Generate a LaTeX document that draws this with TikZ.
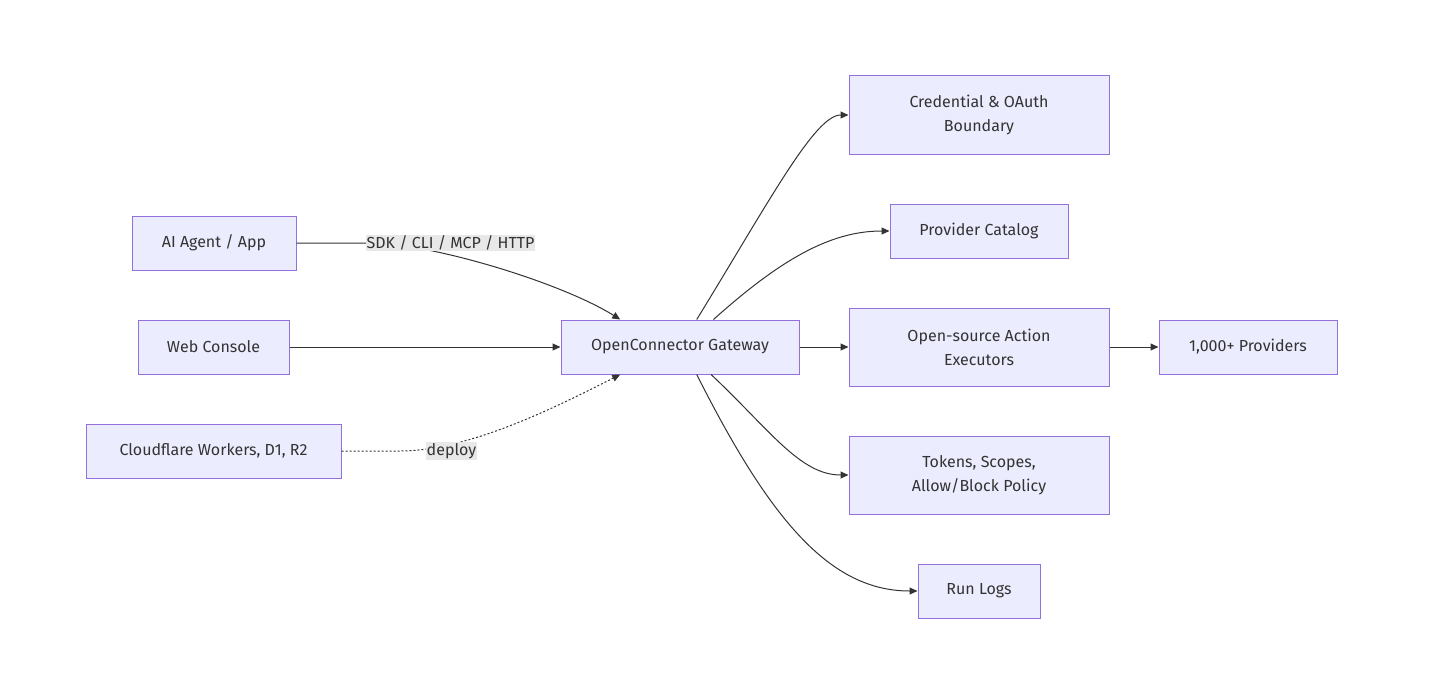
\documentclass[tikz,border=0pt]{standalone}
\usepackage{fontspec}
\setmainfont{Fira Sans}
\usetikzlibrary{arrows.meta, calc}

\definecolor{nodefill}{HTML}{ECECFF}
\definecolor{nodeline}{HTML}{9370DB}
\definecolor{edgeline}{HTML}{333333}
\definecolor{lblfill}{HTML}{E8E8E8}

\begin{document}
\begin{tikzpicture}[x=1pt, y=-1pt,
  box/.style={draw=nodeline, fill=nodefill, line width=1pt, align=center,
    text=edgeline, font=\fontsize{16}{24}\selectfont, inner sep=0pt},
  lbl/.style={fill=lblfill, text=edgeline, inner sep=1pt,
    font=\fontsize{16}{18}\selectfont},
  arr/.style={-{Triangle[length=8pt, width=7pt]}, line width=1pt, edgeline},
  dotarr/.style={arr, dash pattern=on 2pt off 2pt},
]
\useasboundingbox (0,0) rectangle (1443,693);

% ── Left column: clients ──
\node[box, minimum width=164pt, minimum height=54pt] (agent) at (214,243)
  {AI Agent / App};
\node[box, minimum width=151pt, minimum height=54pt] (web) at (213.5,347)
  {Web Console};
\node[box, minimum width=255pt, minimum height=54pt] (cf) at (213.5,451)
  {Cloudflare Workers, D1, R2};

% ── Centre: gateway ──
\node[box, minimum width=238pt, minimum height=54pt] (gw) at (680,347)
  {OpenConnector Gateway};

% ── Right column: services ──
\node[box, minimum width=260pt, minimum height=78pt] (cred) at (979,115)
  {Credential \& OAuth\\Boundary};
\node[box, minimum width=178pt, minimum height=54pt] (cat) at (979,231)
  {Provider Catalog};
\node[box, minimum width=260pt, minimum height=78pt] (exec) at (979,347)
  {Open-source Action\\Executors};
\node[box, minimum width=178pt, minimum height=54pt] (prov) at (1248,347)
  {1,000+ Providers};
\node[box, minimum width=260pt, minimum height=78pt] (tok) at (979,475)
  {Tokens, Scopes,\\Allow/Block Policy};
\node[box, minimum width=122pt, minimum height=54pt] (logs) at (979,591)
  {Run Logs};

% anchor points on the gateway border
\coordinate (gwin1) at ($(gw.north west)!0.25!(gw.north east)$);
\coordinate (gwin2) at ($(gw.south west)!0.25!(gw.south east)$);
\coordinate (gwout1) at ($(gw.north west)!0.57!(gw.north east)$);
\coordinate (gwout2) at ($(gw.north west)!0.64!(gw.north east)$);
\coordinate (gwout3) at ($(gw.south west)!0.63!(gw.south east)$);
\coordinate (gwout4) at ($(gw.south west)!0.57!(gw.south east)$);
\coordinate (sdkpt) at (450.5,243);
\coordinate (deppt) at (451.5,451);

% ── Incoming edges ──
\draw[arr] (agent.east) -- (370,243) .. controls (430,243) and (560,282) .. (gwin1);
\draw[arr] (web.east) -- (gw.west);
\draw[dotarr] (cf.east) -- (400,451) .. controls (470,451) and (560,405) .. (gwin2);
\node[lbl] (sdk) at (sdkpt) {SDK / CLI / MCP / HTTP};
\node[lbl] (dep) at (deppt) {deploy};

% ── Outgoing edges ──
\draw[arr] (gwout1) .. controls (770,200) and (815,115) .. (cred.west);
\draw[arr] (gwout2) .. controls (780,260) and (830,231) .. (cat.west);
\draw[arr] (gw.east) -- (exec.west);
\draw[arr] (exec.east) -- (prov.west);
\draw[arr] (gwout3) .. controls (770,430) and (800,475) .. (tok.west);
\draw[arr] (gwout4) .. controls (770,520) and (830,591) .. (logs.west);
\end{tikzpicture}
\end{document}
